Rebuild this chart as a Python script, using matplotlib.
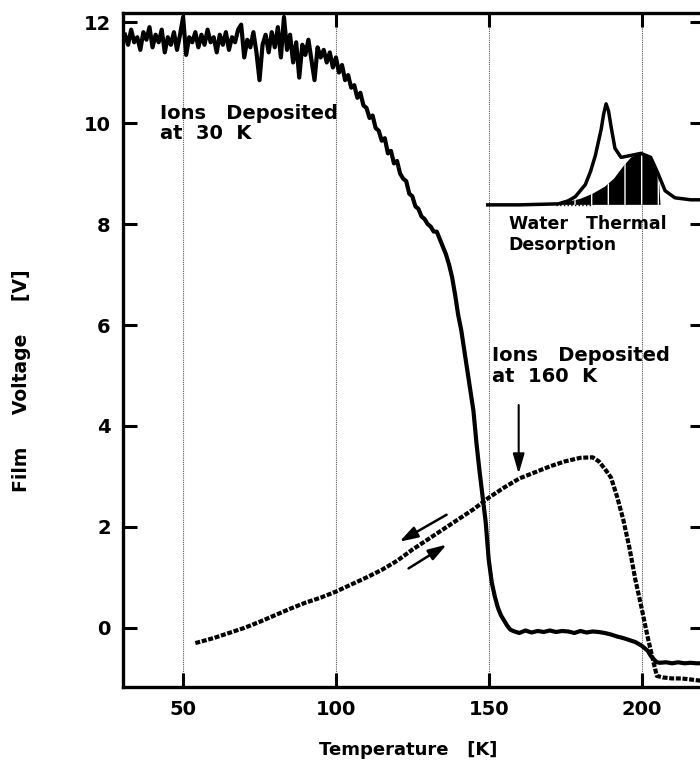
import matplotlib
matplotlib.use("Agg")
import matplotlib.pyplot as plt
import numpy as np

plt.rcParams['font.family'] = ['DejaVu Sans']
plt.rcParams['font.weight'] = 'bold'

# ions deposited at 30 K (solid, noisy)
t30 = [31, 32, 33, 34, 35, 36, 37, 38, 39, 40, 41, 42, 43, 44, 45, 46, 47, 48, 49, 50,
       51, 52, 53, 54, 55, 56, 57, 58, 59, 60, 61, 62, 63, 64, 65, 66, 67, 68, 69, 70,
       71, 72, 73, 74, 75, 76, 77, 78, 79, 80, 81, 82, 83, 84, 85, 86, 87, 88, 89, 90,
       91, 92, 93, 94, 95, 96, 97, 98, 99, 100, 101, 102, 103, 104, 105, 106, 107, 108, 109, 110,
       111, 112, 113, 114, 115, 116, 117, 118, 119, 120, 121, 122, 123, 124, 125, 126, 127, 128, 129, 130,
       131, 132, 133, 134, 135, 136, 137, 138, 139, 140, 141, 142, 143, 144, 145, 146, 147, 148, 149, 150,
       151, 152, 153, 154, 155, 156, 157, 158, 160, 162, 164, 166, 168, 170, 172, 174, 176, 178, 180, 182,
       184, 186, 188, 190, 192, 194, 196, 198, 200, 202, 203, 204, 205, 206, 208, 210, 212, 214, 216, 218, 220]
v30 = [11.75, 11.55, 11.85, 11.6, 11.7, 11.45, 11.8, 11.65, 11.9, 11.5, 11.75, 11.6, 11.85, 11.4, 11.7, 11.55, 11.8, 11.45, 11.75, 12.1,
       11.35, 11.7, 11.6, 11.8, 11.5, 11.75, 11.55, 11.85, 11.6, 11.7, 11.4, 11.75, 11.55, 11.8, 11.45, 11.7, 11.6, 11.85, 11.95, 11.3,
       11.65, 11.5, 11.8, 11.4, 10.85, 11.55, 11.75, 11.4, 11.8, 11.5, 11.9, 11.3, 12.1, 11.45, 11.75, 11.2, 11.6, 10.9, 11.55, 11.35,
       11.65, 11.25, 10.85, 11.5, 11.3, 11.45, 11.2, 11.4, 11.1, 11.3, 11.0, 11.15, 10.85, 10.95, 10.7, 10.75, 10.5, 10.6, 10.35, 10.3,
       10.1, 10.15, 9.9, 9.85, 9.65, 9.7, 9.4, 9.45, 9.2, 9.25, 9.0, 8.9, 8.85, 8.6, 8.55, 8.35, 8.3, 8.15, 8.1, 8.0,
       7.95, 7.85, 7.85, 7.7, 7.55, 7.4, 7.2, 6.95, 6.6, 6.2, 5.9, 5.5, 5.1, 4.7, 4.3, 3.65, 3.1, 2.6, 2.1, 1.35,
       0.9, 0.62, 0.4, 0.25, 0.15, 0.05, -0.03, -0.06, -0.1, -0.05, -0.09, -0.06, -0.08, -0.05, -0.08, -0.06, -0.07, -0.1, -0.06, -0.09,
       -0.07, -0.08, -0.1, -0.13, -0.17, -0.2, -0.24, -0.28, -0.35, -0.45, -0.55, -0.62, -0.68, -0.69, -0.68, -0.7, -0.68, -0.7, -0.69, -0.7, -0.7]

# ions deposited at 160 K (dashed)
t160 = [54, 57, 60, 65, 70, 75, 80, 85, 90, 95, 100, 105, 110, 115, 120, 125, 130, 135, 140, 145,
        150, 155, 160, 165, 170, 175, 180, 184, 186, 188, 190, 192, 194, 196, 198, 200, 202, 204, 205, 207,
        210, 213, 216, 220]
v160 = [-0.3, -0.25, -0.2, -0.1, 0.0, 0.12, 0.25, 0.38, 0.5, 0.6, 0.72, 0.86, 1.0, 1.15, 1.33, 1.55, 1.75, 1.95, 2.15, 2.35,
        2.58, 2.78, 2.96, 3.08, 3.2, 3.3, 3.37, 3.38, 3.3, 3.15, 2.98, 2.6, 2.15, 1.6, 0.95, 0.4, -0.18, -0.7, -0.95, -0.98,
        -1.0, -1.0, -1.02, -1.05]

# water thermal desorption trace (arbitrary units)
t_tpd = [149, 160, 172.8, 176, 178.3, 181.6, 183.3, 184.9, 186.8, 187.6, 188.4, 189.2, 190, 191.3, 193.3,
         196.6, 199.8, 203, 205.4, 207.7, 210.9, 216.1, 220]
s_tpd = [0, 0, 0.01, 0.04, 0.08, 0.2, 0.33, 0.49, 0.75, 0.9, 1.0, 0.93, 0.78, 0.56, 0.47,
         0.49, 0.51, 0.47, 0.31, 0.14, 0.07, 0.05, 0.05]
t_fill = [172, 176, 180, 184, 188, 191, 194, 196.6, 199.8, 203, 205, 205.8, 206.2]
s_fill = [0.01, 0.03, 0.06, 0.11, 0.18, 0.26, 0.38, 0.47, 0.51, 0.47, 0.33, 0.2, 0.0]

xticks = [50, 100, 150, 200]
yticks = [0, 2, 4, 6, 8, 10, 12]

fig = plt.figure(figsize=(7, 7.69), dpi=100)
ax = fig.add_axes([0.176, 0.1066, 0.83, 0.8765])

for x in xticks:
    ax.axvline(x, color='#555555', ls=(0, (1, 1)), lw=0.8, zorder=0)

ax.plot(t30, v30, color='black', lw=3.0, solid_joinstyle='round')
ax.plot(t160, v160, color='black', lw=3.0, ls=(0, (1.2, 0.4)))

ax.set_xlim(30.4, 220.5)
ax.set_ylim(-1.17, 12.18)
ax.set_xticks(xticks)
ax.set_yticks(yticks)
ax.tick_params(direction='in', length=10, width=2.2, top=True, right=True,
               labelsize=14, pad=9)
for s in ax.spines.values():
    s.set_linewidth(2.4)

ax.set_xlabel('Temperature   [K]', fontsize=13, fontweight='bold')
ax.xaxis.set_label_coords(0.49, -0.08)
ax.set_ylabel('Film     Voltage     [V]', fontsize=13.5, fontweight='bold')
ax.yaxis.set_label_coords(-0.158, 0.455)

ax.text(42.3, 10.38, 'Ions   Deposited\nat  30  K', fontsize=14, fontweight='bold',
        va='top', linespacing=1.1)
ax.text(151, 5.58, 'Ions   Deposited\nat  160  K', fontsize=14, fontweight='bold',
        va='top', linespacing=1.1)
ax.text(156.5, 8.17, 'Water   Thermal\nDesorption', fontsize=12.5, fontweight='bold',
        va='top', linespacing=1.15)

# arrows
ax.annotate('', xy=(159.8, 3.0), xytext=(159.8, 4.47),
            arrowprops=dict(arrowstyle='-|>,head_width=0.35,head_length=1.2', color='black', lw=1.5))
ax.annotate('', xy=(120.0, 1.68), xytext=(137.0, 2.27),
            arrowprops=dict(arrowstyle='-|>,head_width=0.35,head_length=1.1', color='black', lw=1.8))
ax.annotate('', xy=(137.0, 1.68), xytext=(123.0, 1.15),
            arrowprops=dict(arrowstyle='-|>,head_width=0.35,head_length=1.1', color='black', lw=1.8))

# inset TPD trace
ins = ax.inset_axes([149, 8.28, 71.5, 2.2], transform=ax.transData)
ins.set_xlim(149, 220.5)
ins.set_ylim(-0.05, 1.05)
ins.axis('off')
ins.fill_between(t_fill, 0, s_fill, facecolor='black', edgecolor='white', hatch='|', lw=0)
ins.plot(t_fill[:4], [0] * 4, color='black', lw=1, ls=':')
ins.plot(t_tpd, s_tpd, color='black', lw=2.5)

fig.savefig('out.png', dpi=100)
